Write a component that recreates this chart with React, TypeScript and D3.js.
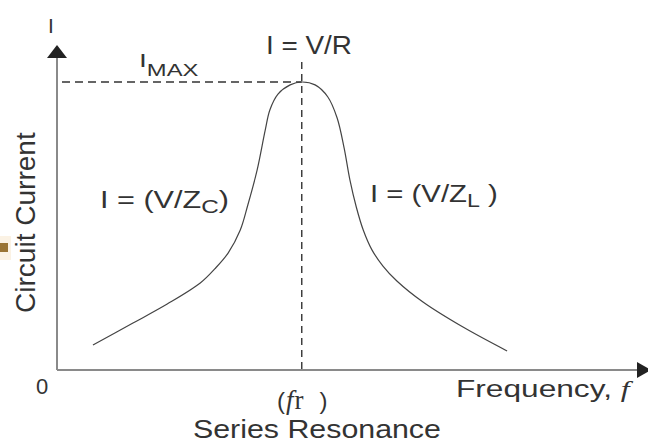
import React, { useEffect, useRef } from "react";
import * as d3 from "d3";

// Resonance curve samples (frequency in arbitrary units, current in % of I_MAX)
const frequency = [0.62, 1.31, 1.9, 2.47, 2.72, 2.95, 3.16, 3.29, 3.45, 3.59, 3.67, 3.81, 4.02, 4.22, 4.45, 4.67, 4.83, 4.95, 5.05, 5.16, 5.28, 5.43, 5.62, 5.86, 6.31, 7.0, 7.76];
const current = [8.7, 16.3, 22.9, 30.2, 35.1, 40.6, 48.6, 57.3, 69.4, 83.3, 90.3, 95.8, 99.0, 100, 99.0, 94.8, 87.5, 77.1, 66.0, 56.6, 48.6, 41.7, 36.1, 30.9, 23.6, 14.9, 6.6];
const resonantFrequency = 4.22;
const maxCurrent = 100;
const xDomain = [0, 10];
const yDomain = [0, 100];

const W = 648;
const H = 444;
const SANS = "'Liberation Sans', Arial, Helvetica, sans-serif";
const SERIF = "'Liberation Serif', 'Times New Roman', serif";
const INK = "#333";

type Part = { t: string; size: number; dy?: number; dx?: number; family?: string; italic?: boolean };

export default function App() {
  const ref = useRef<SVGSVGElement | null>(null);

  useEffect(() => {
    const svg = d3.select(ref.current);
    svg.selectAll("*").remove();

    const x = d3.scaleLinear().domain(xDomain).range([57, 637]);
    const y = d3.scaleLinear().domain(yDomain).range([370, 82]);

    svg.append("rect").attr("width", W).attr("height", H).attr("fill", "#fff");

    // stray mark at the left edge
    svg.append("rect").attr("x", 0).attr("y", 236).attr("width", 11).attr("height", 24).attr("fill", "#fbf2e4");
    svg.append("rect").attr("x", 0).attr("y", 243).attr("width", 8).attr("height", 9).attr("fill", "#9a7434");

    // axes
    svg.append("line").attr("x1", x(0)).attr("x2", x(0)).attr("y1", y(0)).attr("y2", 56)
      .attr("stroke", "#8a8a8a").attr("stroke-width", 2);
    svg.append("line").attr("x1", x(0)).attr("x2", 638).attr("y1", y(0)).attr("y2", y(0))
      .attr("stroke", "#8a8a8a").attr("stroke-width", 2);
    svg.append("path").attr("d", `M${x(0)},45 L${x(0) - 10},58 L${x(0) + 10},58 Z`).attr("fill", "#222");
    svg.append("path").attr("d", `M651,${y(0)} L637,${y(0) - 8} L637,${y(0) + 8} Z`).attr("fill", "#222");

    // dashed guides
    svg.append("line").attr("x1", 62).attr("x2", x(resonantFrequency)).attr("y1", y(maxCurrent)).attr("y2", y(maxCurrent))
      .attr("stroke", INK).attr("stroke-width", 1.4).attr("stroke-dasharray", "8,5");
    svg.append("line").attr("x1", x(resonantFrequency)).attr("x2", x(resonantFrequency)).attr("y1", 62).attr("y2", y(0))
      .attr("stroke", INK).attr("stroke-width", 1.4).attr("stroke-dasharray", "7,5");

    // curve
    const pts = frequency.map((f, i) => [f, current[i]] as [number, number]);
    const line = d3.line<[number, number]>().x(d => x(d[0])).y(d => y(d[1])).curve(d3.curveCatmullRom.alpha(0.5));
    svg.append("path").attr("d", line(pts) || "").attr("fill", "none").attr("stroke", "#444").attr("stroke-width", 1.2);

    // labels
    const label = (parts: Part[], left: number, baseline: number, width: number | null, rotate = false) => {
      const g = svg.append("g");
      const t = g.append("text").attr("x", 0).attr("y", 0).attr("fill", INK).attr("font-family", SANS);
      parts.forEach(p => {
        const s = t.append("tspan").text(p.t).attr("font-size", p.size);
        if (p.dy) s.attr("dy", p.dy);
        if (p.dx) s.attr("dx", p.dx);
        if (p.family) s.attr("font-family", p.family);
        if (p.italic) s.attr("font-style", "italic");
      });
      const bb = (t.node() as SVGTextElement).getBBox();
      const sx = width ? width / bb.width : 1;
      if (rotate) {
        g.attr("transform", `translate(${baseline},${left}) rotate(-90) scale(${sx},1) translate(${-bb.x},0)`);
      } else {
        g.attr("transform", `translate(${left},${baseline}) scale(${sx},1) translate(${-bb.x},0)`);
      }
    };

    label([{ t: "I", size: 21 }], 48, 33, null);
    label([{ t: "I", size: 19 }, { t: "MAX", size: 16, dy: 9 }], 139, 67, 60);
    label([{ t: "I = V/R", size: 26 }], 266, 54, 86);
    label([{ t: "I = (V/Z", size: 24 }, { t: "C", size: 19, dy: 5 }, { t: ")", size: 24, dy: -5 }], 100, 208, 129);
    label([{ t: "I = (V/Z", size: 24 }, { t: "L", size: 19, dy: 5 }, { t: " )", size: 24, dy: -5 }], 370, 202, 128);
    label([{ t: "Circuit Current", size: 28 }], 313, 35, 181, true);
    label([{ t: "0", size: 22 }], 36, 394, null);
    label([
      { t: "(", size: 24 },
      { t: "f", size: 27, family: SERIF, italic: true, dx: 1 },
      { t: "r", size: 27, family: SERIF, dx: 1 },
      { t: ")", size: 24, dx: 16 },
    ], 277, 409, null);
    label([{ t: "Series Resonance", size: 26 }], 193, 438, 248);
    label([{ t: "Frequency, ", size: 24 }, { t: "f", size: 24, family: SERIF, italic: true }], 456, 397, 178);
  }, []);

  return (
    <svg ref={ref} width={W} height={H} style={{ position: "absolute", left: 0, top: 0, display: "block" }} />
  );
}
